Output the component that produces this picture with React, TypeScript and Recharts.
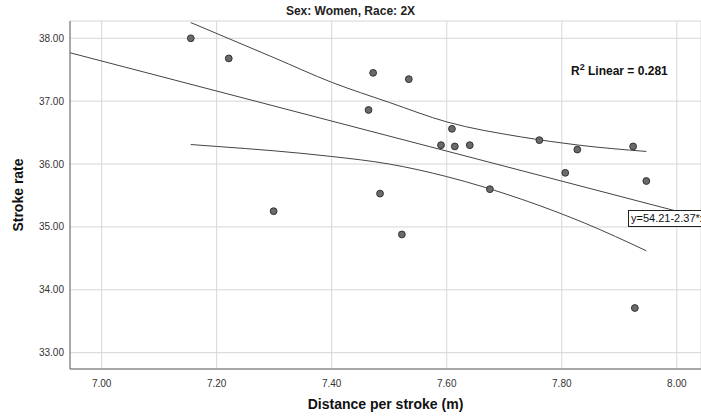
import {
  ComposedChart,
  Scatter,
  Line,
  XAxis,
  YAxis,
  CartesianGrid,
} from "recharts";

const distance = [
  7.155, 7.221, 7.299, 7.472, 7.534, 7.464, 7.609, 7.59, 7.614, 7.64,
  7.761, 7.827, 7.924, 7.806, 7.947, 7.484, 7.675, 7.522, 7.927,
];
const strokeRate = [
  38.0, 37.68, 35.25, 37.45, 37.35, 36.86, 36.56, 36.3, 36.28, 36.3,
  36.38, 36.23, 36.28, 35.86, 35.73, 35.53, 35.6, 34.88, 33.71,
];

// fit line and 95% mean confidence band
const fitX = [6.945, 8.042];
const fitY = [37.77, 35.15];
const upperX = [7.155, 7.3, 7.4, 7.5, 7.6, 7.73, 7.83, 7.947];
const upperY = [38.25, 37.69, 37.3, 36.98, 36.67, 36.43, 36.3, 36.2];
const lowerX = [7.155, 7.2, 7.3, 7.4, 7.5, 7.6, 7.73, 7.84, 7.947];
const lowerY = [36.31, 36.28, 36.21, 36.12, 36.0, 35.8, 35.44, 35.06, 34.62];

const xTicks = [7.0, 7.2, 7.4, 7.6, 7.8, 8.0];
const yTicks = [33, 34, 35, 36, 37, 38];

const zip = (xs: number[], ys: number[]) => xs.map((x, i) => ({ x, y: ys[i] }));

const points = zip(distance, strokeRate);
const fit = zip(fitX, fitY);
const upper = zip(upperX, upperY);
const lower = zip(lowerX, lowerY);

const font = "'Liberation Sans', Arial, sans-serif";
const tick = { fontSize: 10, fill: "#333", fontFamily: font };

function Dot(props: { cx?: number; cy?: number }) {
  const { cx, cy } = props;
  if (cx == null || cy == null) return null;
  return <circle cx={cx} cy={cy} r={3.4} fill="#6a6a6a" stroke="#333" strokeWidth={1} />;
}

export default function App() {
  return (
    <div
      style={{
        position: "absolute",
        left: 0,
        top: 0,
        width: 701,
        height: 417,
        overflow: "hidden",
        background: "#fff",
        fontFamily: font,
      }}
    >
      <ComposedChart
        width={701}
        height={417}
        margin={{ top: 21, right: 0, bottom: 0, left: 0 }}
      >
        <CartesianGrid stroke="#d6d6d6" />
        <XAxis
          type="number"
          dataKey="x"
          domain={[6.945, 8.042]}
          ticks={xTicks}
          tickFormatter={(v: number) => v.toFixed(2)}
          tick={tick}
          tickLine={false}
          tickSize={0}
          tickMargin={11}
          height={48}
          stroke="#666"
          allowDataOverflow
        />
        <YAxis
          type="number"
          dataKey="y"
          domain={[32.74, 38.275]}
          ticks={yTicks}
          tickFormatter={(v: number) => v.toFixed(2)}
          tick={tick}
          tickLine={false}
          tickSize={0}
          tickMargin={6}
          width={70}
          stroke="#666"
          allowDataOverflow
        />
        <Line
          data={fit}
          dataKey="y"
          type="linear"
          stroke="#444"
          strokeWidth={1}
          dot={false}
          isAnimationActive={false}
        />
        <Line
          data={upper}
          dataKey="y"
          type="monotone"
          stroke="#444"
          strokeWidth={1}
          dot={false}
          isAnimationActive={false}
        />
        <Line
          data={lower}
          dataKey="y"
          type="monotone"
          stroke="#444"
          strokeWidth={1}
          dot={false}
          isAnimationActive={false}
        />
        <Scatter
          data={points}
          dataKey="y"
          shape={(p: any) => <Dot cx={p.cx} cy={p.cy} />}
          isAnimationActive={false}
        />
      </ComposedChart>

      <div
        style={{
          position: "absolute",
          left: 0,
          width: 701,
          top: 4,
          textAlign: "center",
          fontSize: 12,
          fontWeight: "bold",
          color: "#222",
        }}
      >
        Sex: Women, Race: 2X
      </div>
      <div
        style={{
          position: "absolute",
          left: 571,
          top: 62,
          fontSize: 12,
          fontWeight: "bold",
          color: "#111",
          whiteSpace: "nowrap",
        }}
      >
        R<sup style={{ fontSize: 9, verticalAlign: "5px" }}>2</sup> Linear = 0.281
      </div>
      <div
        style={{
          position: "absolute",
          left: 628,
          top: 210,
          height: 15,
          padding: "0 2px",
          border: "1px solid #222",
          background: "#fff",
          fontSize: 11,
          lineHeight: "15px",
          color: "#111",
          whiteSpace: "nowrap",
        }}
      >
        y=54.21-2.37*x
      </div>
      <div
        style={{
          position: "absolute",
          left: 0,
          width: 771,
          top: 396,
          textAlign: "center",
          fontSize: 14,
          fontWeight: "bold",
          color: "#111",
        }}
      >
        Distance per stroke (m)
      </div>
      <div
        style={{
          position: "absolute",
          left: 18,
          top: 195,
          transform: "translate(-50%, -50%) rotate(-90deg)",
          fontSize: 14,
          fontWeight: "bold",
          color: "#111",
          whiteSpace: "nowrap",
        }}
      >
        Stroke rate
      </div>
    </div>
  );
}
